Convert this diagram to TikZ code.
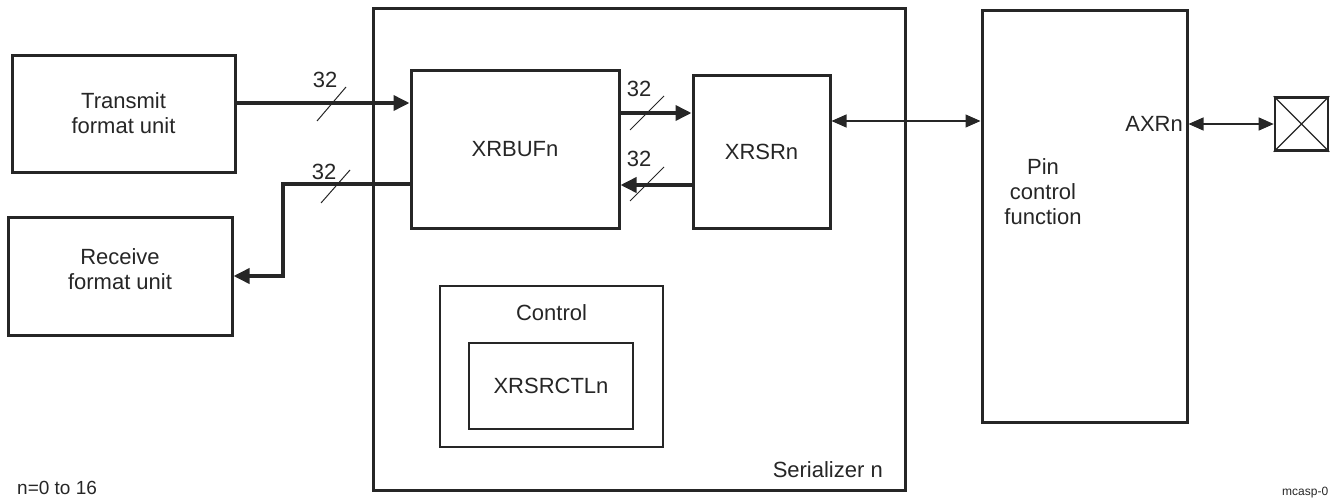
\documentclass[tikz,border=0pt]{standalone}
\usepackage{fontspec}
\setmainfont{Liberation Sans}
\usetikzlibrary{arrows.meta}
\begin{document}
\begin{tikzpicture}[x=1pt,y=-1pt,
  box/.style={draw=black!85,line width=3pt,inner sep=0pt},
  ibox/.style={draw=black!85,line width=2.4pt,inner sep=0pt},
  bus/.style={line width=3.6pt,black!85},
  thin/.style={line width=1.2pt,black!85},
  busarrow/.style={-{Triangle[length=16pt,width=15pt]}},
  dbl/.style={{Triangle[length=15pt,width=13pt]}-{Triangle[length=15pt,width=13pt]}},
  slash/.style={line width=1pt,black!85},
  lbl/.style={inner sep=0pt},
  every node/.style={font=\fontsize{22}{25}\selectfont,text=black!85}]
\useasboundingbox (0,0) rectangle (1330,498);
% boxes
\node[box,minimum width=223pt,minimum height=117pt,align=center] (tx) at (123.5,113.5) {Transmit\\format unit};
\node[box,minimum width=224pt,minimum height=118pt] (rx) at (120,276) {};
\node[lbl,align=center] (rxtxt) at (120,269.5) {Receive\\format unit};
\node[box,minimum width=532pt,minimum height=482pt] (ser) at (639,249) {};
\node[lbl,anchor=base east] (sern) at (883,477) {Serializer n};
\node[box,minimum width=208pt,minimum height=158pt] (buf) at (515,149) {XRBUFn};
\node[box,minimum width=137pt,minimum height=153pt] (xsr) at (761.5,151.5) {XRSRn};
\node[ibox,minimum width=223pt,minimum height=161pt] (ctl) at (551.5,366.5) {};
\node[lbl] (ctltxt) at (551.5,313) {Control};
\node[ibox,minimum width=164pt,minimum height=86pt] (ctln) at (551,386) {XRSRCTLn};
\node[box,minimum width=205pt,minimum height=412pt] (pin) at (1084.5,216) {};
\node[lbl,align=center] (pintxt) at (1043,192) {Pin\\control\\function};
\node[lbl,anchor=east] (axr) at (1183,124) {AXRn};
\node[draw=black!85,line width=2.6pt,minimum width=53pt,minimum height=53pt,inner sep=0pt] (pad) at (1301.5,124) {};
\draw[thin] (pad.north west) -- (pad.south east) (pad.north east) -- (pad.south west);
% connectors
\coordinate (txe) at (tx.east |- 0,103);
\coordinate (bufw1) at (buf.west |- 0,103);
\draw[bus,busarrow] (txe) -- (bufw1);
\coordinate (bufw2) at (buf.west |- 0,184);
\coordinate (rxe) at (rx.east |- 0,276);
\draw[bus,busarrow] (bufw2) -- (283,184) -- (283,276) -- (rxe);
\coordinate (bufe1) at (buf.east |- 0,113);
\coordinate (xsrw1) at (xsr.west |- 0,113);
\draw[bus,busarrow] (bufe1) -- (xsrw1);
\coordinate (xsrw2) at (xsr.west |- 0,185);
\coordinate (bufe2) at (buf.east |- 0,185);
\draw[bus,busarrow] (xsrw2) -- (bufe2);
\coordinate (xsre) at (xsr.east |- 0,121);
\coordinate (pinw) at (pin.west |- 0,121);
\draw[thin,dbl] (xsre) -- (pinw);
\coordinate (pine) at (pin.east |- 0,124);
\draw[thin,dbl] (pine) -- (pad.west);
% width marks
\draw[slash] (317,121) -- (346,87);
\node[lbl] (l1) at (325,80) {32};
\draw[slash] (321,203) -- (350,170);
\node[lbl] (l2) at (324,172) {32};
\draw[slash] (630,130) -- (664,96);
\node[lbl] (l3) at (639,89) {32};
\draw[slash] (630,201) -- (664,167);
\node[lbl] (l4) at (639,159) {32};
% notes
\node[font=\fontsize{19}{22}\selectfont,anchor=west,inner sep=0pt] (note) at (17,488) {n=0 to 16};
\node[font=\fontsize{12}{14}\selectfont,anchor=west,inner sep=0pt] (fig) at (1282,493) {mcasp-0};
\end{tikzpicture}
\end{document}
